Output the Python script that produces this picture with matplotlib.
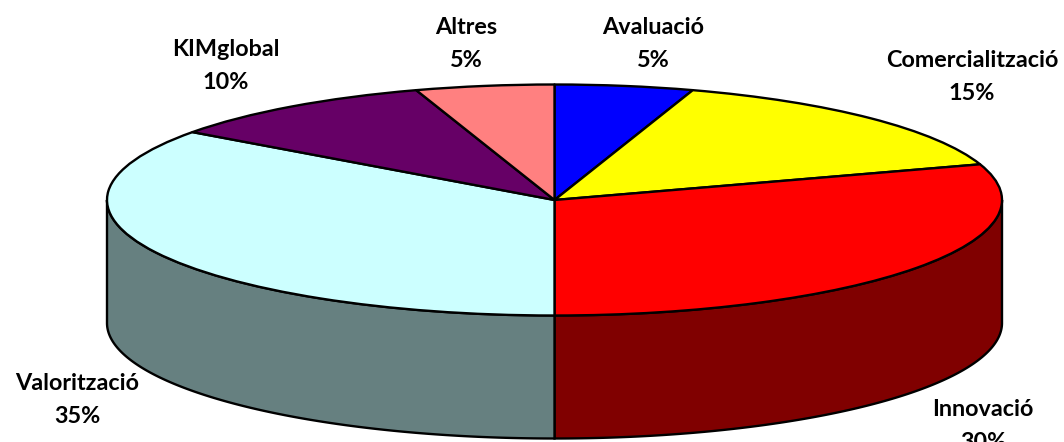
import numpy as np
import matplotlib
matplotlib.use("Agg")
import matplotlib.pyplot as plt
from matplotlib.patches import Polygon

plt.rcParams["font.family"] = ["Lato", "DejaVu Sans"]

# slices, clockwise from 12 o'clock
names = ["Avaluació", "Comercialització", "Innovació", "Valorització", "KIMglobal", "Altres"]
shares = [5, 15, 30, 35, 10, 5]
top_colors = ["#0000FF", "#FFFF00", "#FF0000", "#CCFFFF", "#660066", "#FF8080"]
side_colors = ["#000080", "#808000", "#800000", "#668080", "#330033", "#804040"]

# label centres in image pixels
label_x = [653, 972, 983, 77, 226, 466]
label_y = [44, 77, 426, 400, 66, 44]

W, H = 1064, 442
cx, cy = 554.5, 200.0
rx, ry = 447.5, 115.5
depth = 123 / ry

fig = plt.figure(figsize=(W / 100, H / 100), dpi=100)
ax = fig.add_axes([0, 0, 1, 1])

ax.pie(shares, startangle=90, counterclock=False, colors=top_colors, radius=1,
       wedgeprops={"edgecolor": "black", "linewidth": 1.7, "joinstyle": "round"})
ax.set_aspect("auto")
ax.set_xlim((0 - cx) / rx, (W - cx) / rx)
ax.set_ylim((cy - H) / ry, cy / ry)

# side wall, only the front half of the cylinder shows
edges = np.cumsum([0] + shares) / sum(shares) * 2 * np.pi
for i in range(len(shares)):
    a = max(edges[i], np.pi / 2)
    b = min(edges[i + 1], 3 * np.pi / 2)
    if b <= a:
        continue
    t = np.linspace(a, b, 200)
    xs = np.sin(t)
    ys = np.cos(t)
    pts = np.concatenate([np.column_stack([xs, ys]),
                          np.column_stack([xs[::-1], ys[::-1] - depth])])
    ax.add_patch(Polygon(pts, closed=True, facecolor=side_colors[i], edgecolor="black",
                         linewidth=1.7, zorder=0.5))

for name, share, px, py in zip(names, shares, label_x, label_y):
    ax.text((px - cx) / rx, (cy - py) / ry, f"{name}\n{share}%", ha="center", va="center",
            fontsize=16.8, fontweight="bold", linespacing=1.7, color="black")

fig.savefig("out.png", dpi=100)
